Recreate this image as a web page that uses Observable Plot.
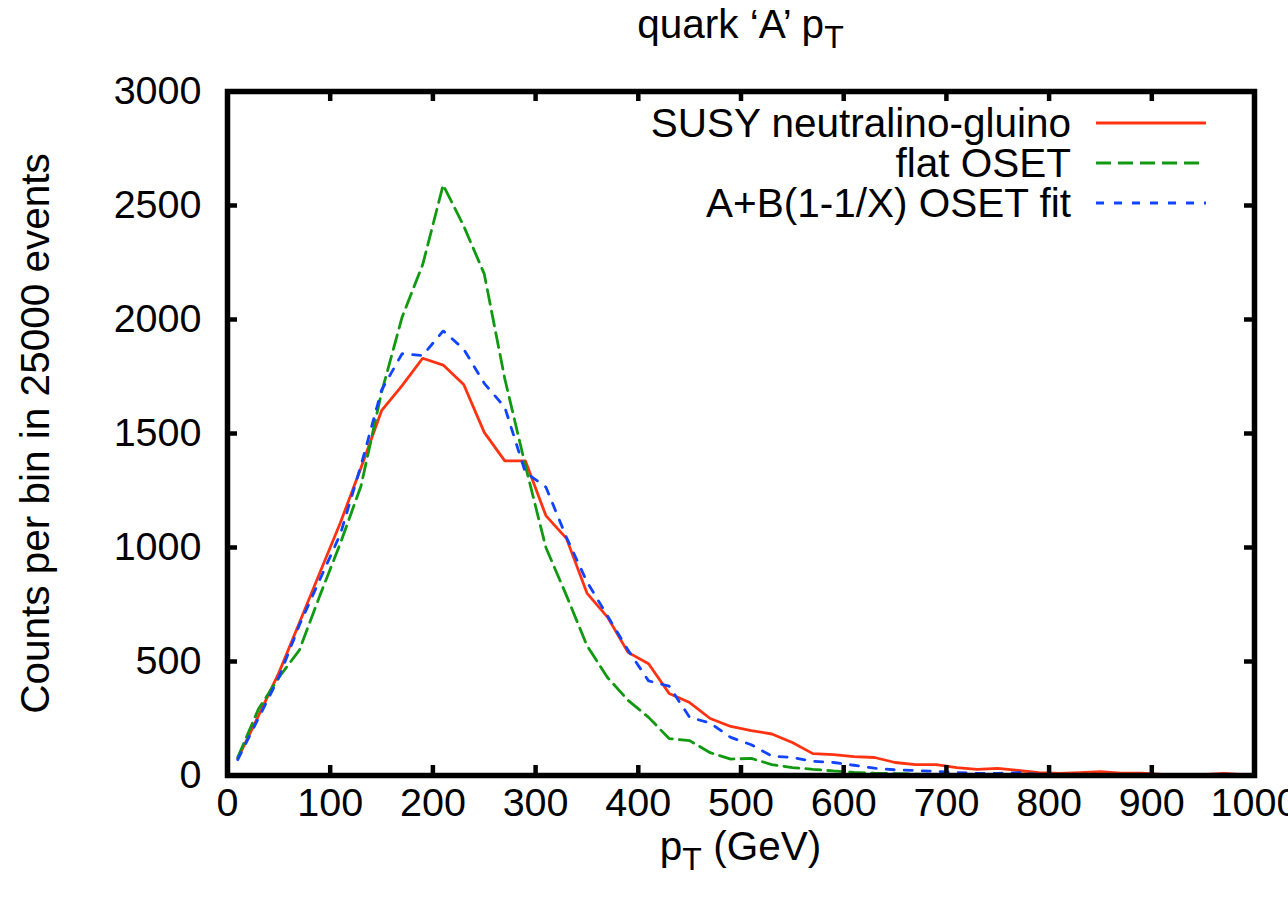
<!DOCTYPE html>
<html><head><meta charset="utf-8">
<script src="https://cdn.jsdelivr.net/npm/d3@7"></script>
<script src="https://cdn.jsdelivr.net/npm/@observablehq/plot@0.6"></script>
<style>
html,body{margin:0;padding:0;background:#fff;overflow:hidden;}
#chart svg{display:block;}
</style></head><body><div id="chart"></div>
<script>
// bin centres (GeV)
const binCenters = [10,30,50,70,90,110,130,150,170,190,210,230,250,270,290,310,330,350,370,390,
  410,430,450,470,490,510,530,550,570,590,610,630,650,670,690,710,730,750,770,790,
  810,830,850,870,890,910,930,950,970,990];
const susy = [75,260,450,670,890,1110,1350,1600,1710,1830,1800,1715,1505,1380,1380,1140,1040,800,695,540,
  490,360,320,250,215,197,182,145,96,92,83,79,57,48,48,35,27,31,22,13,
  9,13,17,10,10,5,4,4,9,4];
const flatOset = [80,290,430,550,790,1020,1270,1680,2010,2240,2590,2410,2200,1740,1360,1000,790,570,430,330,
  255,162,153,100,72,75,48,35,27,20,14,10,8,6,5,4,3,3,2,2,
  1,1,1,1,0,1,0,0,0,0];
const fitOset = [70,250,430,660,860,1060,1360,1690,1850,1842,1950,1870,1720,1615,1330,1265,1045,850,700,550,
  415,392,255,230,167,135,85,79,62,57,45,32,25,22,18,13,9,9,13,4,
  4,3,3,2,2,1,1,1,0,0];
const xTicks = [0,100,200,300,400,500,600,700,800,900,1000];
const yTicks = [0,500,1000,1500,2000,2500,3000];
const seriesNames = ["SUSY neutralino-gluino","flat OSET","A+B(1-1/X) OSET fit"];
const seriesColors = ["#ff3311","#119911","#1144ff"];
const seriesDash = [null,"15,7","8,10"];
const yLabel = "Counts per bin in 25000 events";

const FONT = "'Liberation Sans', Arial, Helvetica, sans-serif";
const W = 1288, H = 898, mL = 227, mR = 34, mT = 91, mB = 123;
const innerW = W - mL - mR, innerH = H - mT - mB;
const FS = 39.5;
const LFS = 40.5;
const LW = 2.8;
const rows = vals => binCenters.map((x, i) => ({x, y: vals[i]}));
const allSeries = [susy, flatOset, fitOset];

const plot = Plot.plot({
  width: W, height: H,
  marginLeft: mL, marginRight: mR, marginTop: mT, marginBottom: mB,
  style: {fontFamily: FONT, background: "white", color: "black", overflow: "visible"},
  x: {domain: [0, 1000]},
  y: {domain: [0, 3000]},
  marks: [
    ...allSeries.map((s, i) => Plot.line(rows(s), {
      x: "x", y: "y", stroke: seriesColors[i], strokeWidth: LW,
      strokeDasharray: seriesDash[i] || undefined, strokeLinejoin: "miter"
    })),
    Plot.tickX(xTicks, {x: d => d, insetTop: innerH - 10, stroke: "black", strokeWidth: 4.5}),
    Plot.tickX(xTicks, {x: d => d, insetBottom: innerH - 10, stroke: "black", strokeWidth: 4.5}),
    Plot.tickY(yTicks, {y: d => d, insetRight: innerW - 10, stroke: "black", strokeWidth: 4.5}),
    Plot.tickY(yTicks, {y: d => d, insetLeft: innerW - 10, stroke: "black", strokeWidth: 4.5}),
    Plot.axisX({ticks: xTicks, tickSize: 0, tickPadding: 12, fontSize: FS, label: null, tickFormat: d => String(d)}),
    Plot.axisY({ticks: yTicks, tickSize: 0, tickPadding: 26, fontSize: FS, label: null, tickFormat: d => String(d)}),
    Plot.frame({stroke: "black", strokeWidth: 5.5}),
    Plot.text([yLabel], {text: d => d, frameAnchor: "left", dx: -191, rotate: -90,
      fontSize: LFS, textAnchor: "middle", lineAnchor: "middle", fill: "black"})
  ]
});

const svg = d3.select(plot);
// title
const t = svg.append("text").attr("x", (mL + W - mR) / 2).attr("y", 38)
  .attr("text-anchor", "middle").attr("font-family", FONT).attr("font-size", LFS).attr("fill", "black");
t.append("tspan").text("quark \u2018A\u2019 p");
t.append("tspan").attr("font-size", 32).attr("dy", 10).text("T");
// x label
const xl = svg.append("text").attr("x", (mL + W - mR) / 2).attr("y", 860)
  .attr("text-anchor", "middle").attr("font-family", FONT).attr("font-size", LFS).attr("fill", "black");
xl.append("tspan").text("p");
xl.append("tspan").attr("font-size", 32).attr("dy", 10).text("T");
xl.append("tspan").attr("font-size", LFS).attr("dy", -10).text(" (GeV)");
// legend
const lg = svg.append("g").attr("font-family", FONT).attr("font-size", LFS);
seriesNames.forEach((name, i) => {
  const ry = 123 + i * 40;
  lg.append("text").attr("x", 1071).attr("y", ry + 14).attr("text-anchor", "end").attr("fill", "black").text(name);
  const ln = lg.append("line").attr("x1", 1096).attr("x2", 1206).attr("y1", ry).attr("y2", ry)
    .attr("stroke", seriesColors[i]).attr("stroke-width", LW);
  if (seriesDash[i]) ln.attr("stroke-dasharray", seriesDash[i]);
});

document.getElementById("chart").appendChild(plot);
</script>
</body></html>
